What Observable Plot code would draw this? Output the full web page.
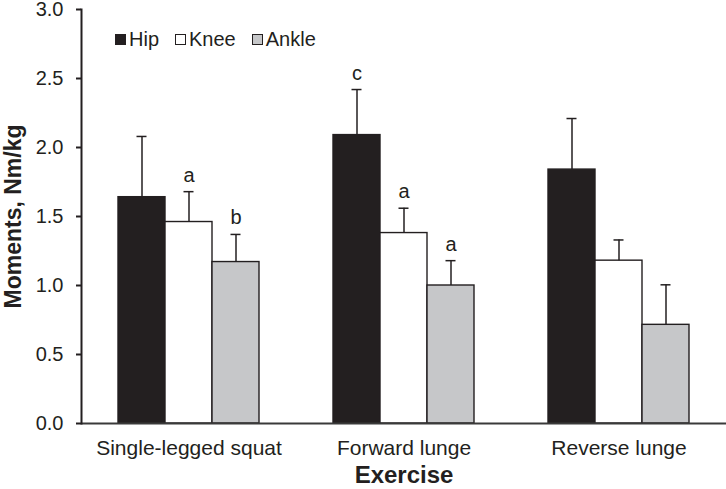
<!DOCTYPE html>
<html><head><meta charset="utf-8">
<script src="https://cdn.jsdelivr.net/npm/d3@7"></script>
<script src="https://cdn.jsdelivr.net/npm/@observablehq/plot@0.6"></script>
<style>
body{margin:0;background:#fff;}
#chart{position:relative;width:726px;height:489px;font-family:"Liberation Sans",Arial,sans-serif;color:#231f20;}
#legend{position:absolute;left:115px;top:29px;display:flex;font-size:20px;line-height:20px;}
.item{display:flex;align-items:center;margin-right:16px;}
.sw{width:11px;height:11px;box-sizing:border-box;border:1px solid #231f20;margin-right:3px;}
g[aria-label="fx-axis label"] text{font-size:24px;font-weight:bold;}
g[aria-label="y-axis label"] text{font-size:23px;font-weight:bold;}
</style></head><body><div id="chart"><div id="legend"></div></div>
<script>
const exercises = ["Single-legged squat", "Forward lunge", "Reverse lunge"];
const joints = ["Hip", "Knee", "Ankle"];
const jointColors = ["#231f20", "#ffffff", "#c6c7c9"];
const hipMean = [1.64, 2.09, 1.84];
const hipSD = [0.44, 0.33, 0.37];
const kneeMean = [1.46, 1.38, 1.18];
const kneeSD = [0.22, 0.18, 0.15];
const ankleMean = [1.17, 1.00, 0.715];
const ankleSD = [0.20, 0.18, 0.29];
const hipLetters = ["", "c", ""];
const kneeLetters = ["a", "a", ""];
const ankleLetters = ["b", "a", ""];
const yTicks = [0, 0.5, 1.0, 1.5, 2.0, 2.5, 3.0];

const means = [hipMean, kneeMean, ankleMean];
const sds = [hipSD, kneeSD, ankleSD];
const letters = [hipLetters, kneeLetters, ankleLetters];
const data = [];
exercises.forEach((ex, i) => {
  joints.forEach((j, k) => {
    data.push({exercise: ex, joint: j, mean: means[k][i], sd: sds[k][i], letter: letters[k][i]});
  });
});
const ink = "#231f20";

const chart = Plot.plot({
  width: 726,
  height: 489,
  marginLeft: 81,
  marginRight: 0,
  marginTop: 9,
  marginBottom: 66,
  style: {fontFamily: "'Liberation Sans', Arial, sans-serif", fontSize: "20px", color: ink, background: "white", overflow: "visible"},
  fx: {domain: exercises, padding: 0},
  x: {domain: joints, paddingInner: 0, paddingOuter: 0.787, axis: null},
  y: {domain: [0, 3]},
  color: {domain: joints, range: jointColors},
  marks: [
    Plot.barY(data, {fx: "exercise", x: "joint", y: "mean", fill: "joint", stroke: ink, strokeWidth: 1.4}),
    Plot.ruleX(data, {fx: "exercise", x: "joint", y1: "mean", y2: d => d.mean + d.sd, stroke: ink, strokeWidth: 1.5}),
    Plot.tickY(data, {fx: "exercise", x: "joint", y: d => d.mean + d.sd, stroke: ink, strokeWidth: 1.5, insetLeft: 18.5, insetRight: 18.5}),
    Plot.text(data.filter(d => d.letter), {fx: "exercise", x: "joint", y: d => d.mean + d.sd, text: "letter", lineAnchor: "bottom", dy: -10, fontSize: 20, fill: ink}),
    Plot.ruleY([0], {stroke: "#3a3a3a", strokeWidth: 2}),
    Plot.frame({anchor: "left", facetAnchor: "left", stroke: ink, strokeWidth: 2}),
    Plot.axisY({ticks: yTicks, tickFormat: d3.format(".1f"), tickSize: 5, tickPadding: 13, strokeWidth: 2, stroke: ink, fontSize: 20,
      label: "Moments, Nm/kg", labelAnchor: "center", labelOffset: 77, labelArrow: "none"}),
    Plot.axisFx({anchor: "bottom", tickSize: 0, tickPadding: 17, fontSize: 21, label: "Exercise", labelAnchor: "center", labelOffset: 59})
  ]
});
document.getElementById("chart").appendChild(chart);

const legend = document.getElementById("legend");
joints.forEach((j, k) => {
  const item = document.createElement("div");
  item.className = "item";
  const sw = document.createElement("span");
  sw.className = "sw";
  sw.style.background = jointColors[k];
  const t = document.createElement("span");
  t.textContent = j;
  item.appendChild(sw);
  item.appendChild(t);
  legend.appendChild(item);
});
</script></body></html>
